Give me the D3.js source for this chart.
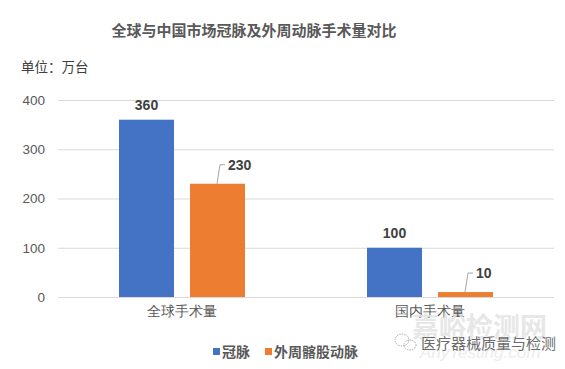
<!DOCTYPE html>
<html lang="zh">
<head>
<meta charset="utf-8">
<title>全球与中国市场冠脉及外周动脉手术量对比</title>
<style>
  body { margin: 0; background: #fff; }
  svg { font-family: "Noto Sans CJK SC", "Liberation Sans", sans-serif; }
</style>
</head>
<body>
<svg id="chart" width="565" height="369"></svg>
<script src="https://d3js.org/d3.v7.min.js"></script>
<script>
const categories = ["全球手术量", "国内手术量"];
const seriesNames = ["冠脉", "外周髂股动脉"];
const coronary = [360, 100];
const peripheral = [230, 10];
const yTicks = [0, 100, 200, 300, 400];
const colors = ["#4472c4", "#ed7d31"];

const svg = d3.select("#chart");
const plotLeft = 58, plotRight = 554, plotTop = 100, plotBottom = 297;

const x = d3.scaleBand().domain(categories).range([plotLeft, plotRight]);
const y = d3.scaleLinear().domain([0, 400]).range([plotBottom, plotTop]);
const barW = 55, gap = 16;

// title + unit
svg.append("text").attr("x", 254).attr("y", 36).attr("text-anchor", "middle")
  .attr("font-size", 15).attr("font-weight", "bold").attr("fill", "#595959")
  .text("全球与中国市场冠脉及外周动脉手术量对比");
svg.append("text").attr("x", 21).attr("y", 72).attr("font-size", 13.5)
  .attr("fill", "#404040").text("单位：万台");

// grid
svg.append("g").selectAll("line").data(yTicks).join("line")
  .attr("x1", plotLeft).attr("x2", plotRight)
  .attr("y1", d => y(d) + 0.5).attr("y2", d => y(d) + 0.5)
  .attr("stroke", "#d9d9d9").attr("stroke-width", 1);

const yAxis = svg.append("g").attr("transform", `translate(${plotLeft},0)`)
  .call(d3.axisLeft(y).tickValues(yTicks).tickSize(0).tickPadding(13));
yAxis.select(".domain").remove();
yAxis.selectAll("text").attr("font-size", 13.5).attr("fill", "#595959")
  .attr("font-family", "Liberation Sans, sans-serif");

const xAxis = svg.append("g").attr("transform", `translate(0,${plotBottom})`)
  .call(d3.axisBottom(x).tickSize(0).tickPadding(9));
xAxis.select(".domain").remove();
xAxis.selectAll("text").attr("font-size", 14).attr("fill", "#595959");

const series = [coronary, peripheral];
series.forEach((vals, si) => {
  const bx = (c) => x(c) + x.bandwidth() / 2 + (si === 0 ? -gap / 2 - barW : gap / 2);
  svg.append("g").selectAll("rect").data(categories).join("rect")
    .attr("x", c => bx(c)).attr("width", barW)
    .attr("y", (c, i) => y(vals[i])).attr("height", (c, i) => y(0) - y(vals[i]))
    .attr("fill", colors[si]);
});

// labels: blue directly above, orange with leader lines
categories.forEach((c, i) => {
  const cx = x(c) + x.bandwidth() / 2;
  svg.append("text").attr("x", cx - gap / 2 - barW / 2).attr("y", y(coronary[i]) - 10)
    .attr("text-anchor", "middle").attr("font-size", 14).attr("font-weight", "bold")
    .attr("fill", "#404040").attr("font-family", "Liberation Sans, sans-serif")
    .text(coronary[i]);
  const ox = cx + gap / 2 + 27;
  const oy = y(peripheral[i]);
  const ly = oy - 19;
  svg.append("path")
    .attr("d", `M${ox},${oy} L${ox + 3},${ly} L${ox + 8},${ly}`)
    .attr("fill", "none").attr("stroke", "#a6a6a6").attr("stroke-width", 1);
  svg.append("text").attr("x", ox + 11).attr("y", ly + 5)
    .attr("font-size", 14).attr("font-weight", "bold").attr("fill", "#404040")
    .attr("font-family", "Liberation Sans, sans-serif")
    .text(peripheral[i]);
});

// legend
const legendX = [213, 265];
seriesNames.forEach((n, i) => {
  svg.append("rect").attr("x", legendX[i]).attr("y", 348).attr("width", 7).attr("height", 7)
    .attr("fill", colors[i]);
  svg.append("text").attr("x", legendX[i] + 9).attr("y", 357).attr("font-size", 14)
    .attr("font-weight", "bold").attr("fill", "#595959").text(n);
});

// watermark
svg.append("text").attr("x", 412).attr("y", 337).attr("font-size", 27).attr("font-weight", "bold")
  .attr("fill", "#e3e3e3").attr("opacity", 0.85).text("嘉峪检测网");
svg.append("text").attr("x", 420).attr("y", 358).attr("font-size", 17).attr("font-style", "italic")
  .attr("font-family", "Liberation Sans, sans-serif").attr("fill", "#ececec").text("AnyTesting.com");
svg.append("text").attr("x", 421).attr("y", 349).attr("font-size", 15)
  .attr("fill", "#6b6b6b").attr("stroke", "#fff").attr("stroke-width", 0.6)
  .attr("paint-order", "stroke").text("医疗器械质量与检测");
const icon = svg.append("g").attr("fill", "none").attr("stroke", "#999").attr("stroke-width", 0.8)
  .attr("stroke-dasharray", "1.5,1");
icon.append("ellipse").attr("cx", 402).attr("cy", 340).attr("rx", 7).attr("ry", 6);
icon.append("ellipse").attr("cx", 410).attr("cy", 345).attr("rx", 6).attr("ry", 5);
</script>
</body>
</html>
